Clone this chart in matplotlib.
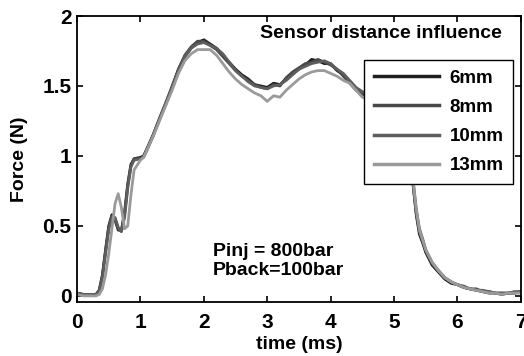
import matplotlib
matplotlib.use("Agg")
import matplotlib.pyplot as plt

plt.rcParams['font.family'] = ['Liberation Sans', 'DejaVu Sans']
plt.rcParams['font.weight'] = 'bold'

# time (ms)
t = [0, 0.1, 0.2, 0.3, 0.35, 0.4, 0.45, 0.5, 0.55, 0.6, 0.65, 0.7, 0.75, 0.8,
     0.85, 0.9, 1.0, 1.05, 1.1, 1.2, 1.3, 1.4, 1.5, 1.6, 1.7, 1.8, 1.9, 2.0,
     2.1, 2.2, 2.3, 2.4, 2.5, 2.6, 2.7, 2.8, 2.9, 3.0, 3.1, 3.2, 3.3, 3.4,
     3.5, 3.6, 3.7, 3.8, 3.9, 4.0, 4.1, 4.2, 4.3, 4.4, 4.5, 4.6, 4.7, 4.8,
     4.9, 5.0, 5.1, 5.2, 5.3, 5.35, 5.4, 5.45, 5.5, 5.6, 5.7, 5.8, 5.9, 6.0,
     6.1, 6.2, 6.3, 6.4, 6.5, 6.6, 6.7, 6.8, 6.9, 7.0]

# force (N) per sensor distance
f_6mm = [0.02, 0.01, 0.01, 0.01, 0.04, 0.15, 0.33, 0.50, 0.58, 0.54, 0.47, 0.47,
         0.60, 0.80, 0.94, 0.98, 0.99, 1.00, 1.05, 1.15, 1.26, 1.37, 1.49, 1.62,
         1.71, 1.77, 1.81, 1.83, 1.80, 1.77, 1.72, 1.67, 1.62, 1.58, 1.55, 1.51,
         1.50, 1.49, 1.52, 1.51, 1.55, 1.59, 1.62, 1.65, 1.69, 1.68, 1.66, 1.66,
         1.61, 1.58, 1.53, 1.48, 1.45, 1.44, 1.43, 1.42, 1.40, 1.36, 1.28, 1.10,
         0.80, 0.58, 0.44, 0.38, 0.31, 0.22, 0.17, 0.12, 0.09, 0.08, 0.06, 0.05,
         0.04, 0.03, 0.02, 0.02, 0.01, 0.02, 0.02, 0.03]
f_8mm = [0.02, 0.01, 0.01, 0.01, 0.04, 0.14, 0.32, 0.49, 0.57, 0.55, 0.48, 0.46,
         0.58, 0.79, 0.93, 0.98, 0.98, 1.00, 1.04, 1.15, 1.27, 1.38, 1.50, 1.62,
         1.72, 1.78, 1.82, 1.82, 1.79, 1.76, 1.71, 1.66, 1.61, 1.57, 1.54, 1.51,
         1.49, 1.48, 1.51, 1.50, 1.56, 1.60, 1.63, 1.66, 1.67, 1.69, 1.67, 1.65,
         1.62, 1.57, 1.52, 1.47, 1.44, 1.43, 1.42, 1.41, 1.39, 1.35, 1.27, 1.08,
         0.79, 0.59, 0.46, 0.39, 0.32, 0.23, 0.18, 0.13, 0.10, 0.08, 0.06, 0.05,
         0.05, 0.03, 0.03, 0.02, 0.02, 0.02, 0.03, 0.03]
f_10mm = [0.02, 0.01, 0.01, 0.01, 0.03, 0.13, 0.30, 0.47, 0.56, 0.56, 0.49, 0.46,
          0.56, 0.77, 0.92, 0.97, 0.98, 0.99, 1.04, 1.14, 1.26, 1.38, 1.49, 1.61,
          1.71, 1.77, 1.80, 1.81, 1.79, 1.77, 1.73, 1.67, 1.61, 1.57, 1.53, 1.50,
          1.49, 1.48, 1.50, 1.51, 1.54, 1.58, 1.62, 1.64, 1.66, 1.67, 1.68, 1.66,
          1.62, 1.59, 1.54, 1.49, 1.46, 1.44, 1.43, 1.42, 1.40, 1.37, 1.29, 1.12,
          0.83, 0.62, 0.48, 0.41, 0.33, 0.24, 0.18, 0.13, 0.10, 0.08, 0.07, 0.05,
          0.04, 0.04, 0.03, 0.02, 0.02, 0.02, 0.02, 0.03]
f_13mm = [0.01, 0.00, 0.00, 0.00, 0.01, 0.05, 0.15, 0.30, 0.48, 0.66, 0.73, 0.63,
          0.48, 0.50, 0.72, 0.90, 0.97, 0.99, 1.04, 1.14, 1.25, 1.36, 1.47, 1.59,
          1.68, 1.73, 1.76, 1.76, 1.76, 1.72, 1.66, 1.60, 1.55, 1.51, 1.48, 1.45,
          1.43, 1.39, 1.43, 1.42, 1.47, 1.51, 1.55, 1.58, 1.60, 1.61, 1.61, 1.59,
          1.57, 1.54, 1.52, 1.47, 1.42, 1.40, 1.40, 1.39, 1.37, 1.33, 1.25, 1.08,
          0.82, 0.62, 0.47, 0.40, 0.33, 0.24, 0.18, 0.13, 0.10, 0.08, 0.06, 0.05,
          0.04, 0.03, 0.02, 0.02, 0.01, 0.02, 0.02, 0.02]

labels = ['6mm', '8mm', '10mm', '13mm']
colors = ['#1e1e1e', '#484848', '#5e5e5e', '#9a9a9a']

fig = plt.figure(figsize=(5.24, 3.56), dpi=100)
ax = fig.add_axes([0.147, 0.152, 0.847, 0.803])

for f, lab, c in zip([f_6mm, f_8mm, f_10mm, f_13mm], labels, colors):
    ax.plot(t, f, color=c, lw=2, label=lab)

ax.set_xlim(0, 7)
ax.set_ylim(-0.043, 2)
ax.set_xticks([0, 1, 2, 3, 4, 5, 6, 7])
ax.set_yticks([0, 0.5, 1, 1.5, 2])
ax.set_yticklabels(['0', '0.5', '1', '1.5', '2'])
ax.tick_params(direction='in', top=True, right=True, length=4, width=1.2,
               labelsize=15)
ax.tick_params(axis='x', pad=8)
ax.tick_params(axis='y', pad=4)
for s in ax.spines.values():
    s.set_linewidth(1.3)

ax.set_xlabel('time (ms)', fontsize=14, fontweight='bold', labelpad=3)
ax.set_ylabel('Force (N)', fontsize=14, fontweight='bold', labelpad=10)

ax.text(0.685, 0.94, 'Sensor distance influence', transform=ax.transAxes,
        ha='center', va='center', fontsize=14, fontweight='bold')
ax.text(0.306, 0.143, 'Pinj = 800bar\nPback=100bar', transform=ax.transAxes,
        ha='left', va='center', fontsize=14, fontweight='bold', linespacing=1.15)

leg = ax.legend(loc='upper right', bbox_to_anchor=(0.982, 0.846), fontsize=13.5,
                handlelength=3.5, handletextpad=0.55, labelspacing=0.65,
                borderpad=0.5, borderaxespad=0, fancybox=False, framealpha=1)
leg.get_frame().set_edgecolor('black')
leg.get_frame().set_linewidth(1.0)
for line in leg.get_lines():
    line.set_linewidth(2.5)

fig.savefig('out.png', dpi=100)
